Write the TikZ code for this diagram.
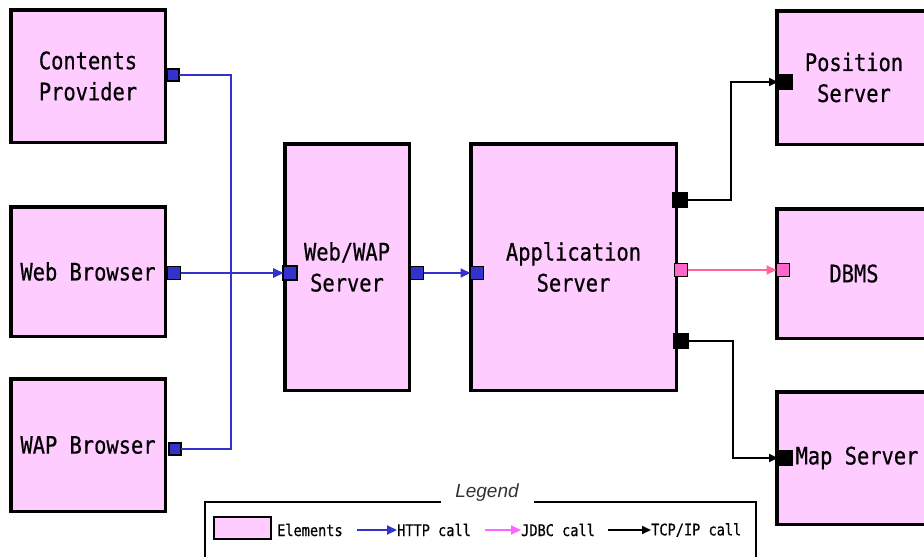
\documentclass[tikz,border=0pt]{standalone}
\usepackage{fontspec}
\usetikzlibrary{arrows.meta}
\newfontfamily\labfont[FakeStretch=0.85,FakeBold=0.6]{DejaVu Sans Mono}
\newfontfamily\legfont{Liberation Sans}
\definecolor{boxpink}{HTML}{FFCCFF}
\definecolor{httpblue}{HTML}{3333CC}
\definecolor{jdbcline}{HTML}{FF6699}
\definecolor{jdbcport}{HTML}{FF66CC}
\definecolor{jdbclegend}{HTML}{FF66FF}
\begin{document}
\begin{tikzpicture}[x=1pt,y=-1pt,
  element/.style={draw=black, line width=3.5pt, fill=boxpink, inner sep=0pt,
    outer sep=0pt, align=center, text=black,
    font=\labfont\fontsize{24}{31}\selectfont},
  port/.style={draw=black, line width=1.2pt, inner sep=0pt, outer sep=0pt,
    minimum size=#1},
  port/.default=12pt,
  httpport/.style={port=#1, fill=httpblue},
  httpport/.default=12pt,
  jdbcport/.style={port=#1, fill=jdbcport},
  jdbcport/.default=13pt,
  tcpport/.style={port=#1, fill=black},
  tcpport/.default=14pt,
  http/.style={draw=httpblue, line width=2pt, -{Triangle[length=10pt,width=9pt]}},
  jdbc/.style={draw=#1, line width=2pt, -{Triangle[length=10pt,width=9pt]}},
  jdbc/.default=jdbcline,
  tcp/.style={draw=black, line width=1.8pt, -{Triangle[length=9pt,width=8pt]}},
  legtext/.style={inner sep=0pt, anchor=west, text=black,
    font=\labfont\fontsize{16}{16}\selectfont},
]
\useasboundingbox (0,0) rectangle (924,557);
\clip (0,0) rectangle (924,557);

% clients
\node[element, minimum width=154.5pt, minimum height=132.5pt] (cp)  at (88,76)    {Contents\\Provider};
\node[element, minimum width=154.5pt, minimum height=129.5pt] (wb)  at (88,271.5) {Web Browser};
\node[element, minimum width=154.5pt, minimum height=132.5pt] (wap) at (88,445)   {WAP Browser};

% servers
\node[element, minimum width=124.5pt, minimum height=246.5pt] (ww)  at (347,267)   {Web/WAP\\Server};
\node[element, minimum width=205.5pt, minimum height=246.5pt] (app) at (573.5,267) {Application\\Server};

% back-end
\node[element, minimum width=154.5pt, minimum height=133.5pt] (pos)  at (854,77.5)  {Position\\Server};
\node[element, minimum width=154.5pt, minimum height=129.5pt] (dbms) at (854,273.5) {DBMS};
\node[element, minimum width=154.5pt, minimum height=132.5pt] (map)  at (854,458)   {\hspace*{6pt}Map Server};

% ports
\node[httpport]        (cpport)  at (173,75)  {};
\node[httpport=13pt]   (wbport)  at (174,273) {};
\node[httpport]        (wapport) at (175,449) {};
\node[httpport=14pt]   (wwin)    at (290,273) {};
\node[httpport=13pt]   (wwout)   at (417,273) {};
\node[httpport=13pt]   (appin)   at (477,273) {};
\node[tcpport]         (tcpa)    at (680,200) {};
\node[jdbcport]        (jdbcout) at (681,270) {};
\node[tcpport]         (tcpb)    at (681,341) {};
\node[tcpport]         (posport) at (785,82)  {};
\node[jdbcport]        (dbport)  at (783,270) {};
\node[tcpport]         (mapport) at (785,458) {};

% HTTP connections
\coordinate (bus) at (231,273);
\draw[http] (cpport.east)  -| (bus) -- (wwin.west);
\draw[http] (wbport.east)  -- (wwin.west);
\draw[http] (wapport.east) -| (bus) -- (wwin.west);
\draw[http] (wwout.east)   -- (appin.west);

% JDBC connection
\draw[jdbc] (jdbcout.east) -- (dbport.west);

% TCP/IP connections
\draw[tcp] (tcpa.east) -- ++(44,0) |- (posport.west);
\draw[tcp] (tcpb.east) -- ++(45,0) |- (mapport.west);

% legend
\node[inner sep=0pt, text=black!80,
  font=\legfont\itshape\fontsize{19}{19}\selectfont] (legtitle) at (487,493) {Legend};
\draw[line width=2pt] (441,502) -- (205,502) -- (205,575);
\draw[line width=2pt] (534,502) -- (756,502) -- (756,575);
\node[element, line width=2.5pt, minimum width=57pt, minimum height=22pt] (legbox) at (242.5,528) {};
\node[legtext] (legel)   at (277,530) {Elements};
\coordinate (ha) at (357,530);
\node[legtext] (legHttp) at (397,530) {HTTP call};
\draw[http] (ha) -- (legHttp.west);
\coordinate (ja) at (485,530);
\node[legtext] (legJdbc) at (521,530) {JDBC call};
\draw[jdbc=jdbclegend] (ja) -- (legJdbc.west);
\coordinate (ta) at (608,530);
\node[legtext] (legTcp)  at (651,530) {TCP/IP call};
\draw[tcp] (ta) -- (legTcp.west);
\end{tikzpicture}
\end{document}
